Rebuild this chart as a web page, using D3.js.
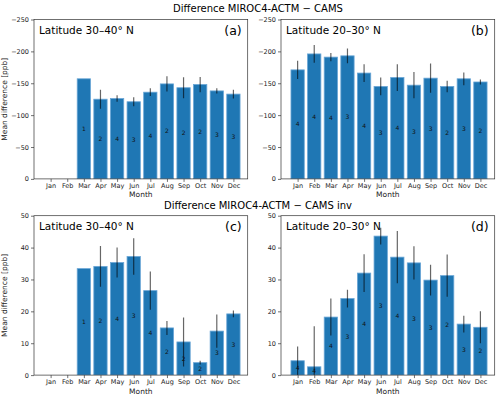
<!DOCTYPE html>
<html>
<head>
<meta charset="utf-8">
<script src="https://cdn.jsdelivr.net/npm/d3@7"></script>
<style>
  body { margin: 0; background: #fff; }
  text { font-family: "DejaVu Sans", sans-serif; }
</style>
</head>
<body>
<div id="chart"></div>
<script>
// month labels shared by all four panels
var months = ["Jan","Feb","Mar","Apr","May","Jun","Jul","Aug","Sep","Oct","Nov","Dec"];

// (a) 30-40 N, MIROC4-ACTM - CAMS  (null = no data)
var aMean = [null, null, -157, -125, -126, -121, -136, -149, -143, -148, -138, -133];
var aErr  = [null, null, 0, 15, 5, 7, 6, 12, 16.5, 12, 4, 7];
var aN    = [null, null, 1, 2, 4, 3, 4, 2, 2, 2, 3, 3];

// (b) 20-30 N, MIROC4-ACTM - CAMS
var bMean = [-171, -196, -191, -193, -166, -145, -159, -147, -158, -145, -157, -152];
var bErr  = [14.5, 14, 6.5, 11.5, 14, 14, 21, 20.5, 23, 9, 10, 4];
var bN    = [4, 4, 4, 3, 4, 3, 4, 3, 3, 2, 3, 2];

// (c) 30-40 N, MIROC4-ACTM - CAMS inv
var cMean = [null, null, 33.4, 34.1, 35.3, 37.2, 26.5, 14.8, 10.4, 3.9, 13.8, 19.2];
var cErr  = [null, null, 0, 6.4, 4.7, 5.7, 6, 2.2, 7.7, 0.6, 5.2, 1.05];
var cN    = [null, null, 1, 2, 4, 3, 4, 2, 2, 2, 3, 3];

// (d) 20-30 N, MIROC4-ACTM - CAMS inv
var dMean = [4.5, 2.6, 18.2, 24, 32, 43.6, 37, 35.2, 29.8, 31.2, 16, 15];
var dErr  = [4.5, 12.7, 5.8, 2.8, 5.9, 2.6, 8.2, 5.2, 4.8, 6.6, 2.6, 5];
var dN    = [4, 4, 4, 3, 4, 3, 4, 3, 3, 2, 3, 2];

var yTicksTop = [0, -50, -100, -150, -200, -250];
var yTicksBot = [0, 10, 20, 30, 40, 50];

var width = 500, height = 397;
var svg = d3.select("#chart").append("svg")
    .attr("width", width)
    .attr("height", height);

var barColor = "#1f77b4";

//Suptitles
svg.append("text").attr("x", 258).attr("y", 11.5)
    .attr("text-anchor", "middle").style("font-size", "10px")
    .text("Difference MIROC4-ACTM \u2212 CAMS");
svg.append("text").attr("x", 258).attr("y", 209)
    .attr("text-anchor", "middle").style("font-size", "10px")
    .text("Difference MIROC4-ACTM \u2212 CAMS inv");

var panels = [
  {mean: aMean, err: aErr, n: aN, left: 34, top: 19.5, domain: [0, -250], ticks: yTicksTop, lat: "Latitude 30\u201340\u00b0 N", tag: "(a)", ylabel: true},
  {mean: bMean, err: bErr, n: bN, left: 281, top: 19.5, domain: [0, -250], ticks: yTicksTop, lat: "Latitude 20\u201330\u00b0 N", tag: "(b)", ylabel: false},
  {mean: cMean, err: cErr, n: cN, left: 34, top: 215.7, domain: [0, 50], ticks: yTicksBot, lat: "Latitude 30\u201340\u00b0 N", tag: "(c)", ylabel: true},
  {mean: dMean, err: dErr, n: dN, left: 281, top: 215.7, domain: [0, 50], ticks: yTicksBot, lat: "Latitude 20\u201330\u00b0 N", tag: "(d)", ylabel: false}
];

var pw = 213.7, ph = 159.4;

panels.forEach(function(p, i) {
  var g = svg.append("g").attr("transform", "translate(" + p.left + "," + p.top + ")");

  var x = d3.scaleLinear().domain([-1, 11.86]).range([0, pw]);
  var y = d3.scaleLinear().domain(p.domain).range([ph, 0]);
  var bw = (x(1) - x(0)) * 0.8;

  var clipId = "clip" + i;
  g.append("clipPath").attr("id", clipId)
    .append("rect").attr("width", pw).attr("height", ph);

  var data = months.map(function(m, k) {
    return {k: k, m: m, v: p.mean[k], e: p.err[k], n: p.n[k]};
  }).filter(function(d) { return d.v !== null; });

  var plot = g.append("g").attr("clip-path", "url(#" + clipId + ")");

  plot.selectAll(".bar").data(data)
    .enter().append("rect")
      .attr("x", function(d) { return x(d.k) - bw / 2; })
      .attr("width", bw)
      .attr("y", function(d) { return Math.min(y(d.v), y(0)); })
      .attr("height", function(d) { return Math.abs(y(0) - y(d.v)); })
      .attr("fill", barColor)
      .attr("stroke", "#6aa6d6")
      .attr("stroke-width", 0.8);

  plot.selectAll(".err").data(data.filter(function(d) { return d.e > 0; }))
    .enter().append("line")
      .attr("x1", function(d) { return x(d.k); })
      .attr("x2", function(d) { return x(d.k); })
      .attr("y1", function(d) { return y(d.v - d.e); })
      .attr("y2", function(d) { return y(d.v + d.e); })
      .attr("stroke", "#000")
      .attr("stroke-opacity", 0.6)
      .attr("stroke-width", 1.2);

  g.selectAll(".cnt").data(data)
    .enter().append("text")
      .attr("x", function(d) { return x(d.k); })
      .attr("y", function(d) { return y(d.v / 2); })
      .attr("dy", "0.35em")
      .attr("text-anchor", "middle")
      .style("font-size", "6px")
      .attr("fill", "#111")
      .text(function(d) { return d.n; });

  //axes
  var xAxis = d3.axisBottom(x).tickValues(d3.range(12))
      .tickFormat(function(k) { return months[k]; })
      .tickSize(3).tickPadding(1.5);
  var yAxis = d3.axisLeft(y).tickValues(p.ticks)
      .tickFormat(function(v) { return v < 0 ? "\u2212" + Math.abs(v) : v; })
      .tickSize(3).tickPadding(2);

  var gx = g.append("g").attr("transform", "translate(0," + ph + ")").call(xAxis);
  var gy = g.append("g").call(yAxis);
  [gx, gy].forEach(function(ax) {
    ax.select(".domain").remove();
    ax.selectAll("line").attr("stroke", "#333").attr("stroke-width", 0.7);
    ax.selectAll("text").style("font-size", "6.5px").attr("fill", "#222")
      .style("font-family", "DejaVu Sans, sans-serif");
  });

  g.append("rect").attr("width", pw).attr("height", ph)
    .attr("fill", "none").attr("stroke", "#333").attr("stroke-width", 0.7);

  g.append("text").attr("x", 5).attr("y", 14.5)
    .style("font-size", "10.5px").text(p.lat);
  g.append("text").attr("x", pw - 6).attr("y", 15)
    .attr("text-anchor", "end").style("font-size", "12.5px").text(p.tag);

  g.append("text").attr("x", pw / 2).attr("y", ph + 18.5)
    .attr("text-anchor", "middle").style("font-size", "7.5px").attr("fill", "#222")
    .text("Month");

  if (p.ylabel) {
    g.append("text")
      .attr("transform", "translate(" + (-27) + "," + (ph / 2) + ") rotate(-90)")
      .attr("text-anchor", "middle").style("font-size", "7.5px").attr("fill", "#222")
      .text("Mean difference [ppb]");
  }
});
</script>
</body>
</html>
